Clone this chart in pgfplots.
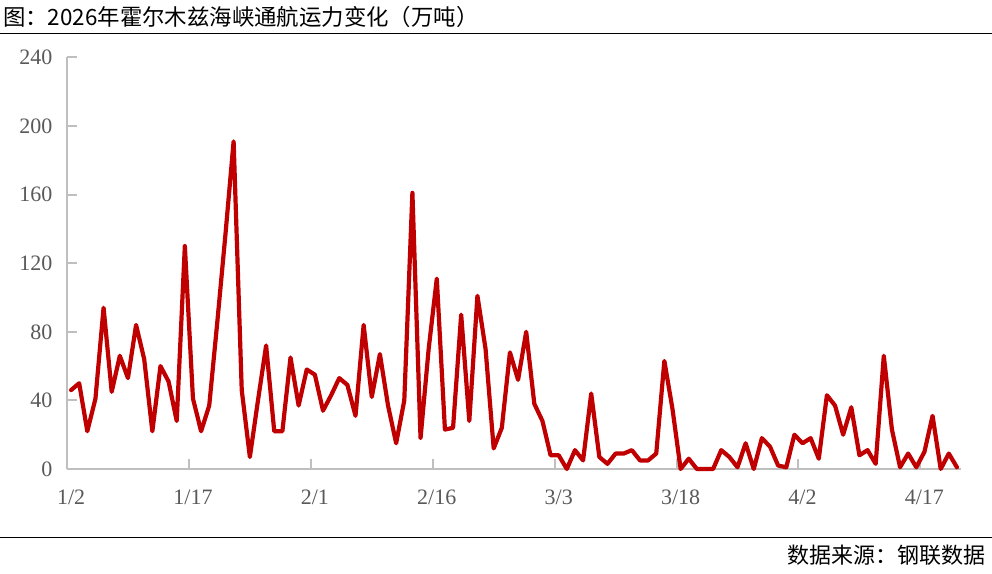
\documentclass[border=0pt]{standalone}
\usepackage{pgfplots}
\pgfplotsset{compat=1.18}
\usepackage{fontspec}
\setmainfont{Liberation Serif}
\newfontfamily\cjk{Noto Sans CJK SC}
\definecolor{linered}{HTML}{C00000}
\definecolor{axgray}{HTML}{BFBFBF}
\definecolor{labgray}{HTML}{595959}
\begin{document}
\begin{tikzpicture}
\path[use as bounding box] (0bp,0bp) rectangle (992bp,574bp);
\node[anchor=west, inner sep=0pt, font=\cjk\fontsize{22.4bp}{24bp}\selectfont] at (3bp,557bp) {图：2026年霍尔木兹海峡通航运力变化（万吨）};
\draw[black, line width=1bp] (0bp,540bp) -- (992bp,540bp);
\draw[black, line width=1bp] (0bp,36bp) -- (992bp,36bp);
\node[anchor=east, inner sep=0pt, font=\cjk\fontsize{22bp}{24bp}\selectfont] at (986bp,18.5bp) {数据来源：钢联数据};
\begin{axis}[
  at={(67bp,105bp)}, anchor=south west,
  scale only axis, width=894bp, height=411.6bp,
  xmin=-0.5, xmax=109.5, ymin=0, ymax=240,
  axis x line=bottom, axis y line=left,
  axis line style={axgray, line width=2bp, -},
  every tick/.style={axgray, line width=2bp},
  tick align=inside,
  major tick length=10bp,
  ytick={0,40,...,240},
  xtick={14.5,29.5,44.5,59.5,74.5,89.5,104.5},
  xticklabels={},
  extra x ticks={0,15,30,45,60,75,90,105},
  extra x tick labels={1/2,1/17,2/1,2/16,3/3,3/18,4/2,4/17},
  extra x tick style={major tick length=0pt},
  ticklabel style={font=\fontsize{22bp}{24bp}\selectfont, text=labgray},
  /pgf/number format/assume math mode=true,
  yticklabel style={xshift=-11bp},
  xticklabel style={yshift=-17bp},
  clip=false,
]
\addplot[linered, line width=4.2bp, line join=round, line cap=round, mark=none] coordinates {
(0,46)(1,50)(2,22)(3,41)(4,94)(5,45)(6,66)(7,53)(8,84)(9,64)
(10,22)(11,60)(12,51)(13,28)(14,130)(15,41)(16,22)(17,37)(18,86)(19,137)
(20,191)(21,46)(22,7)(23,40)(24,72)(25,22)(26,22)(27,65)(28,37)(29,58)
(30,55)(31,34)(32,43)(33,53)(34,49)(35,31)(36,84)(37,42)(38,67)(39,37)
(40,15)(41,40)(42,161)(43,18)(44,70)(45,111)(46,23)(47,24)(48,90)(49,28)
(50,101)(51,70)(52,12)(53,24)(54,68)(55,52)(56,80)(57,38)(58,28)(59,8)
(60,8)(61,0)(62,11)(63,5)(64,44)(65,7)(66,3)(67,9)(68,9)(69,11)
(70,5)(71,5)(72,9)(73,63)(74,35)(75,0)(76,6)(77,0)(78,0)(79,0)
(80,11)(81,7)(82,1)(83,15)(84,0)(85,18)(86,13)(87,2)(88,1)(89,20)
(90,15)(91,18)(92,6)(93,43)(94,37)(95,20)(96,36)(97,8)(98,11)(99,3)
(100,66)(101,23)(102,1)(103,9)(104,1)(105,10)(106,31)(107,0)(108,9)(109,1)
};
\end{axis}
\end{tikzpicture}
\end{document}
